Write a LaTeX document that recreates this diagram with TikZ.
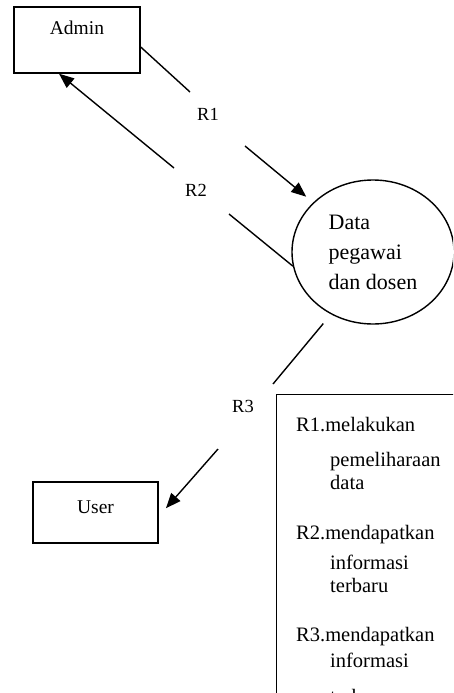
\documentclass[tikz,border=0pt]{standalone}
\usepackage{fontspec}
\setmainfont{Liberation Serif}
\usetikzlibrary{arrows.meta,shapes.geometric}
\begin{document}
\begin{tikzpicture}[x=1pt,y=-1pt,
  ent/.style={draw,line width=1.4pt,rectangle,inner sep=0pt,font=\fontsize{19.5}{22}\selectfont},
  proc/.style={draw,line width=1.4pt,ellipse,minimum width=162pt,minimum height=144pt,inner sep=0pt,align=left,font=\fontsize{22}{30}\selectfont},
  flow/.style={line width=1.4pt},
  flowarr/.style={line width=1.4pt,-{Triangle[length=15pt,width=12pt]}},
  lab/.style={font=\fontsize{18.5}{20}\selectfont,inner sep=0pt},
  leg/.style={font=\fontsize{20.5}{24}\selectfont,inner sep=0pt,anchor=base west}]
\useasboundingbox (0,0) rectangle (453,693);
\clip (0,0) rectangle (453,693);
% entities
\node[ent,minimum width=126pt,minimum height=66pt,text height=13pt,text depth=23pt] (admin) at (77,40) {Admin};
\node[ent,minimum width=125pt,minimum height=61pt,text height=13pt,text depth=12pt] (user) at (95.5,512.5) {User};
% process
\node[proc] (data) at (373,252) {Data\\pegawai\\dan dosen};
% flow labels
\node[lab] (r1) at (208,114) {R1};
\node[lab] (r2) at (196,190) {R2};
\node[lab] (r3) at (243,406) {R3};
% gap coordinates
\coordinate (r1a) at (190,92);
\coordinate (r1b) at (245,146);
\coordinate (r2a) at (174,168);
\coordinate (r2b) at (229,214);
\coordinate (r3a) at (273,384);
\coordinate (r3b) at (218,449);
% connectors
\draw[flow] ([yshift=-7pt]admin.east) -- (r1a);
\draw[flowarr,shorten >=9pt] (r1b) -- (data);
\draw[flow] (data.190) -- (r2b);
\draw[flowarr] (r2a) -- ([xshift=-18pt]admin.south);
\draw[flow,shorten <=12pt] (data.236) -- (r3a);
\draw[flowarr,shorten >=11pt] (r3b) -- ([yshift=-4pt]user.east);
% legend
\node[draw,line width=1.4pt,rectangle,minimum width=210pt,minimum height=330pt,anchor=north west,inner sep=0pt] (legend) at (276,394) {};
\node[leg] (l1) at (296,431) {R1.melakukan};
\node[leg] (l2) at (330,466) {pemeliharaan};
\node[leg] (l3) at (330,489) {data};
\node[leg] (l4) at (296,539) {R2.mendapatkan};
\node[leg] (l5) at (330,569) {informasi};
\node[leg] (l6) at (330,592) {terbaru};
\node[leg] (l7) at (296,641) {R3.mendapatkan};
\node[leg] (l8) at (330,667) {informasi};
\node[leg] (l9) at (330,703) {terbaru};
\end{tikzpicture}
\end{document}
